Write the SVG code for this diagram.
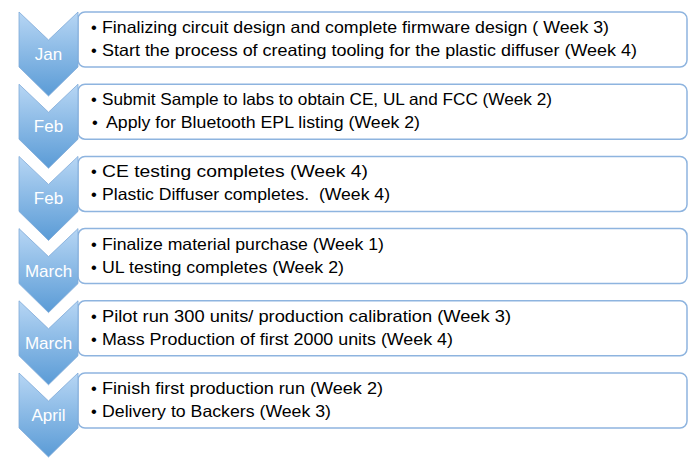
<svg xmlns="http://www.w3.org/2000/svg" width="700" height="460" viewBox="0 0 700 460">
<style>
.box{fill:#ffffff;stroke:#8eb4df;stroke-width:1.5}
.chev{fill:url(#g);stroke:#7fa9d8;stroke-width:0.8}
.lbl{font-family:"Liberation Sans",Arial,sans-serif;font-size:17px;fill:#ffffff;text-anchor:middle}
.t{font-family:"Liberation Sans",Arial,sans-serif;font-size:16.5px;fill:#000000}
</style>
<defs>
<linearGradient id="g" x1="0" y1="0" x2="0" y2="1">
<stop offset="0" stop-color="#b7d6f4"/>
<stop offset="1" stop-color="#5a9bd6"/>
</linearGradient>
<path id="ch" d="M19,0 L48.5,28 L78,0 L78,55 L48.5,84 L19,55 Z"/>
</defs>
<rect width="700" height="460" fill="#ffffff"/>
<g id="row1">
<rect class="box" x="78" y="12" width="609" height="55" rx="7"/>
<use href="#ch" class="chev" y="12"/>
<text class="lbl" x="48.5" y="60">Jan</text>
<text class="t" x="91" y="33">•</text><text class="t" x="102" y="33" textLength="507" lengthAdjust="spacingAndGlyphs">Finalizing circuit design and complete firmware design ( Week 3)</text>
<text class="t" x="91" y="56">•</text><text class="t" x="102" y="56" textLength="535" lengthAdjust="spacingAndGlyphs">Start the process of creating tooling for the plastic diffuser (Week 4)</text>
</g>
<g id="row2">
<rect class="box" x="78" y="84.2" width="609" height="55" rx="7"/>
<use href="#ch" class="chev" y="84.2"/>
<text class="lbl" x="48.5" y="132.2">Feb</text>
<text class="t" x="91" y="105.2">•</text><text class="t" x="102" y="105.2" textLength="450" lengthAdjust="spacingAndGlyphs">Submit Sample to labs to obtain CE, UL and FCC (Week 2)</text>
<text class="t" x="92" y="128.2">•</text><text class="t" x="106" y="128.2" textLength="314" lengthAdjust="spacingAndGlyphs">Apply for Bluetooth EPL listing (Week 2)</text>
</g>
<g id="row3">
<rect class="box" x="78" y="156.4" width="609" height="55" rx="7"/>
<use href="#ch" class="chev" y="156.4"/>
<text class="lbl" x="48.5" y="204.4">Feb</text>
<text class="t" x="91" y="177.4">•</text><text class="t" x="102" y="177.4" textLength="266" lengthAdjust="spacingAndGlyphs">CE testing completes (Week 4)</text>
<text class="t" x="91" y="200.4">•</text><text class="t" x="102" y="200.4" textLength="288" lengthAdjust="spacingAndGlyphs">Plastic Diffuser completes.&#160; (Week 4)</text>
</g>
<g id="row4">
<rect class="box" x="78" y="228.6" width="609" height="55" rx="7"/>
<use href="#ch" class="chev" y="228.6"/>
<text class="lbl" x="48.5" y="276.6">March</text>
<text class="t" x="91" y="249.6">•</text><text class="t" x="102" y="249.6" textLength="282" lengthAdjust="spacingAndGlyphs">Finalize material purchase (Week 1)</text>
<text class="t" x="91" y="272.6">•</text><text class="t" x="102" y="272.6" textLength="242" lengthAdjust="spacingAndGlyphs">UL testing completes (Week 2)</text>
</g>
<g id="row5">
<rect class="box" x="78" y="300.8" width="609" height="55" rx="7"/>
<use href="#ch" class="chev" y="300.8"/>
<text class="lbl" x="48.5" y="348.8">March</text>
<text class="t" x="91" y="321.8">•</text><text class="t" x="102" y="321.8" textLength="409" lengthAdjust="spacingAndGlyphs">Pilot run 300 units/ production calibration (Week 3)</text>
<text class="t" x="91" y="344.8">•</text><text class="t" x="102" y="344.8" textLength="351" lengthAdjust="spacingAndGlyphs">Mass Production of first 2000 units (Week 4)</text>
</g>
<g id="row6">
<rect class="box" x="78" y="373" width="609" height="55" rx="7"/>
<use href="#ch" class="chev" y="373"/>
<text class="lbl" x="48.5" y="421">April</text>
<text class="t" x="91" y="394">•</text><text class="t" x="102" y="394" textLength="281" lengthAdjust="spacingAndGlyphs">Finish first production run (Week 2)</text>
<text class="t" x="91" y="417">•</text><text class="t" x="102" y="417" textLength="229" lengthAdjust="spacingAndGlyphs">Delivery to Backers (Week 3)</text>
</g>
</svg>
